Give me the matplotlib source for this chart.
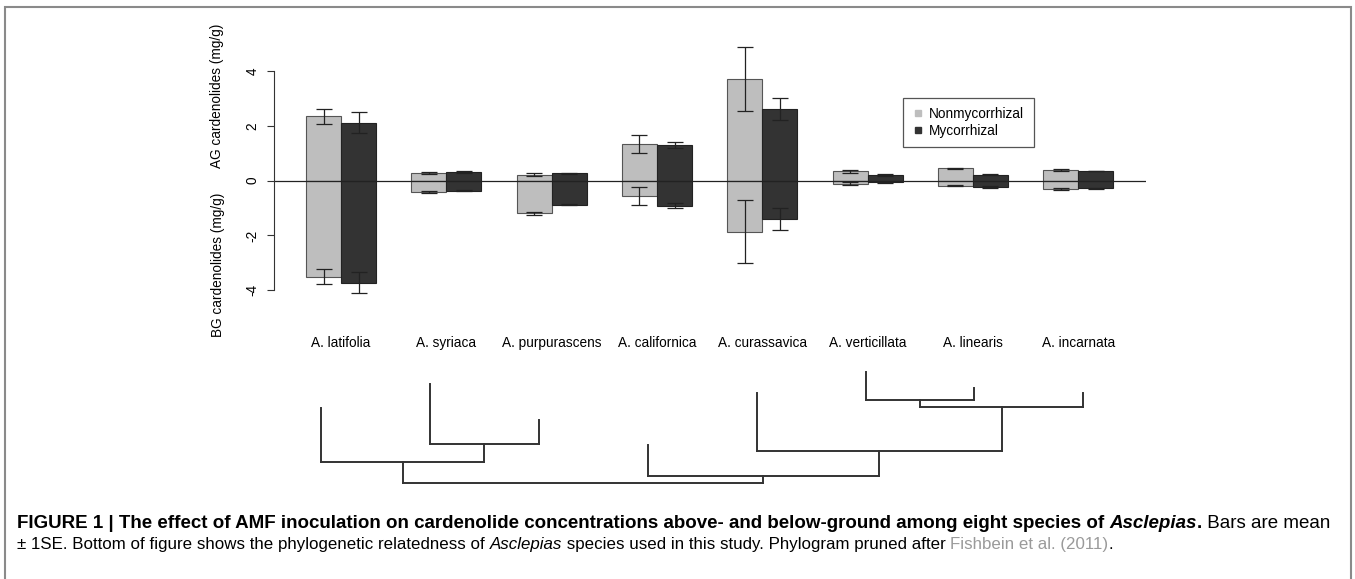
import matplotlib.pyplot as plt
import numpy as np
from matplotlib import font_manager
from matplotlib.lines import Line2D
from matplotlib.patches import Rectangle

plt.rcParams['font.family'] = ['Liberation Sans', 'DejaVu Sans']
plt.rcParams['axes.unicode_minus'] = False

# values (mg/g)
species = ['A. latifolia', 'A. syriaca', 'A. purpurascens', 'A. californica',
           'A. curassavica', 'A. verticillata', 'A. linearis', 'A. incarnata']

ag_non = [2.35, 0.29, 0.22, 1.33, 3.71, 0.34, 0.45, 0.38]
ag_non_se = [0.28, 0.03, 0.05, 0.33, 1.16, 0.05, 0.03, 0.03]
bg_non = [3.51, 0.42, 1.19, 0.56, 1.86, 0.11, 0.18, 0.30]
bg_non_se = [0.27, 0.03, 0.05, 0.33, 1.15, 0.05, 0.03, 0.03]

ag_myc = [2.12, 0.31, 0.27, 1.29, 2.62, 0.20, 0.22, 0.35]
ag_myc_se = [0.37, 0.03, 0.02, 0.11, 0.40, 0.03, 0.03, 0.01]
bg_myc = [3.72, 0.36, 0.88, 0.91, 1.41, 0.06, 0.22, 0.28]
bg_myc_se = [0.37, 0.03, 0.02, 0.10, 0.40, 0.03, 0.03, 0.01]

# phylogram: (name or children, depth from root)
phylo = ([
    ([('A. latifolia', 0.75),
      ([('A. syriaca', 0.99), ('A. purpurascens', 0.63)], 0.39)], 0.21),
    ([('A. californica', 0.38),
      ([('A. curassavica', 0.90),
        ([([('A. verticillata', 1.11), ('A. linearis', 0.95)], 0.83),
          ('A. incarnata', 0.90)], 0.76)], 0.32)], 0.07),
], 0.0)

W, H = 1355, 579
fig = plt.figure(figsize=(W / 100, H / 100), dpi=100)


def fx(px):
    return px / W


def fy(py):
    return 1 - py / H


light, dark = '#bebebe', '#333333'
fs = 9.8

# --- bar panel ---
ax = fig.add_axes([fx(273.7), fy(317.7), (1145.6 - 273.7) / W, (317.7 - 43.7) / H])
x = np.arange(len(species)) * 3
xl, xd = x + 1.5, x + 2.5

for xs, ag, bg, col, ec in [(xl, ag_non, bg_non, light, '#555555'),
                            (xd, ag_myc, bg_myc, dark, '#222222')]:
    ax.bar(xs, ag, 1, color=col, edgecolor=ec, linewidth=0.8)
    ax.bar(xs, -np.array(bg), 1, color=col, edgecolor=ec, linewidth=0.8)

err_kw = dict(fmt='none', ecolor='#222222', elinewidth=0.9, capsize=6, capthick=0.9)
ax.errorbar(xl, ag_non, yerr=ag_non_se, **err_kw)
ax.errorbar(xl, -np.array(bg_non), yerr=bg_non_se, **err_kw)
ax.errorbar(xd, ag_myc, yerr=ag_myc_se, **err_kw)
ax.errorbar(xd, -np.array(bg_myc), yerr=bg_myc_se, **err_kw)

ax.axhline(0, color='#222222', lw=0.9)
ax.set_xlim(0.08, 24.92)
ax.set_ylim(-5, 5)
for s in ['top', 'right', 'bottom']:
    ax.spines[s].set_visible(False)
ax.spines['left'].set_bounds(-4, 4)
ax.spines['left'].set_color('#333333')
ax.set_yticks([-4, -2, 0, 2, 4])
ax.tick_params(axis='y', length=5.3, width=0.8, color='#333333', labelsize=fs,
               labelrotation=90, pad=5)
for lab in ax.get_yticklabels():
    lab.set_verticalalignment('center')
ax.set_xticks(x + 2)
ax.set_xticklabels(species, fontsize=fs)
ax.tick_params(axis='x', length=0, pad=13)
ax.patch.set_visible(False)

fig.text(fx(217.5), fy(95.5), 'AG cardenolides (mg/g)', rotation=90,
         ha='center', va='center', fontsize=fs)
fig.text(fx(218), fy(265), 'BG cardenolides (mg/g)', rotation=90,
         ha='center', va='center', fontsize=fs)

handles = [Line2D([], [], ls='none', marker='s', ms=5, mfc=light, mec=light),
           Line2D([], [], ls='none', marker='s', ms=5, mfc=dark, mec=dark)]
leg = ax.legend(handles, ['Nonmycorrhizal', 'Mycorrhizal'], loc='upper left',
                bbox_to_anchor=(fx(903), fy(98)), bbox_transform=fig.transFigure,
                borderaxespad=0, fancybox=False, edgecolor='#555555', framealpha=1,
                fontsize=fs, handlelength=0.8, handletextpad=0.45,
                labelspacing=0.2, borderpad=0.68)
leg.get_frame().set_linewidth(0.9)

# --- phylogram ---
pax = fig.add_axes([fx(266.55), fy(493), 871.2 / W, 130 / H])
pax.set_xlim(-0.5, 7.5)
pax.set_ylim(-0.1, 1.2)
pax.axis('off')
tips = []
line_kw = dict(color='#333333', lw=1.4, solid_capstyle='projecting')


def draw_clade(node):
    kids, depth = node
    if isinstance(kids, str):
        tips.append(kids)
        return len(tips) - 1, depth
    pts = [draw_clade(k) for k in kids]
    xs = [p[0] for p in pts]
    pax.plot([min(xs), max(xs)], [depth, depth], **line_kw)
    for cx, cd in pts:
        pax.plot([cx, cx], [depth, cd], **line_kw)
    return np.mean(xs), depth


draw_clade(phylo)

# --- frame and caption ---
fig.add_artist(Rectangle((fx(5), -0.05), (1351 - 5) / W, fy(7) + 0.05,
                         transform=fig.transFigure, fill=False,
                         edgecolor='#8a8a8a', lw=1.5, clip_on=False))

renderer = fig.canvas.get_renderer()


def advance(s, size, **kw):
    t = fig.text(0, 0, '|' + s + '|', fontsize=size, **kw)
    w = t.get_window_extent(renderer).width
    t.set_text('||')
    w -= t.get_window_extent(renderer).width
    t.remove()
    return w


# narrower face for the regular second line, if there is one
narrow = ['Liberation Sans']
try:
    font_manager.findfont(font_manager.FontProperties(family='Liberation Sans Narrow'),
                          fallback_to_default=False)
    narrow = ['Liberation Sans Narrow', 'Liberation Sans']
except ValueError:
    pass

bold = dict(weight='bold')
line1 = [('FIGURE 1 | The effect of AMF inoculation on cardenolide concentrations '
          'above- and below-ground among eight species of ', bold),
         ('Asclepias', dict(weight='bold', style='italic')),
         ('.', bold),
         (' Bars are mean', {})]
reg = dict(family=narrow)
line2 = [('± 1SE. Bottom of figure shows the phylogenetic relatedness of ', reg),
         ('Asclepias', dict(style='italic', family=narrow)),
         (' species used in this study. Phylogram pruned after ', reg),
         ('Fishbein et al. (2011)', dict(color='#9a9a9a', family=narrow)),
         ('.', reg)]


def fit_size(parts, width):
    return 10 * width / sum(advance(s, 10, **kw) for s, kw in parts)


size1 = fit_size(line1, 1335 - 17)
size2 = max(size1 * 0.9, fit_size(line2, 1006 - 17))


def write_line(x0, y0, parts, size):
    xp = x0
    for s, kw in parts:
        fig.text(fx(xp), fy(y0), s, fontsize=size, va='baseline', ha='left', **kw)
        xp += advance(s, size, **kw)


write_line(17, 528, line1, size1)
write_line(17, 549, line2, size2)

fig.savefig('out.png', dpi=100)
